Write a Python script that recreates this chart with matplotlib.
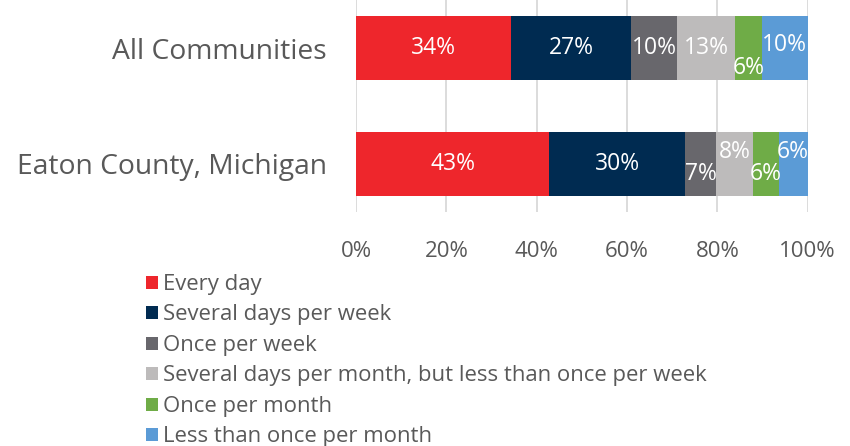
import matplotlib
matplotlib.use("Agg")
import matplotlib.pyplot as plt
from matplotlib.patches import Patch

plt.rcParams['font.family'] = ['Open Sans', 'DejaVu Sans']

categories = ["All Communities", "Eaton County, Michigan"]
series_names = ["Every day", "Several days per week", "Once per week",
                "Several days per month, but less than once per week",
                "Once per month", "Less than once per month"]
all_communities = [34.3, 26.6, 10.2, 12.8, 5.9, 10.2]
eaton_county = [42.8, 30.1, 6.9, 8.0, 5.8, 6.4]
all_labels = ["34%", "27%", "10%", "13%", "6%", "10%"]
eaton_labels = ["43%", "30%", "7%", "8%", "6%", "6%"]
tick_values = [0, 20, 40, 60, 80, 100]
tick_labels = ["0%", "20%", "40%", "60%", "80%", "100%"]

colors = ["#EE262C", "#002B51", "#68676C", "#BDBBBB", "#6FAC47", "#5B9BD6"]
text_gray = "#595959"
# vertical nudges of labels (in data units) to avoid crowding
all_dy = [0, 0, 0, 0, 0.17, -0.03]
eaton_dy = [0, 0, 0.09, -0.1, 0.09, -0.1]

fig = plt.figure(figsize=(8.5, 4.46), dpi=100)
ax = fig.add_axes([356/850, 1 - 212/446, (807.7-356)/850, 212/446])

rows = [all_communities, eaton_county]
labels = [all_labels, eaton_labels]
dys = [all_dy, eaton_dy]
for i, (vals, labs, dy) in enumerate(zip(rows, labels, dys)):
    left = 0
    for j, v in enumerate(vals):
        ax.barh(i, v, left=left, height=0.56, color=colors[j], zorder=3)
        ax.text(left + v/2, i + dy[j], labs[j], ha='center', va='center',
                color='white', fontsize=16.5, zorder=4)
        left += v

ax.set_xlim(0, 100)
ax.set_ylim(1.414, -0.414)
ax.set_xticks(tick_values)
ax.set_xticklabels(tick_labels, color=text_gray, fontsize=16)
ax.set_yticks([0, 1])
ax.set_yticklabels(categories, color=text_gray, fontsize=20.3)
ax.tick_params(axis='both', length=0)
ax.tick_params(axis='x', pad=21)
ax.tick_params(axis='y', pad=21)
ax.grid(axis='x', color='#D9D9D9', linewidth=1.3, zorder=0)
for s in ax.spines.values():
    s.set_visible(False)

handles = [Patch(facecolor=c, edgecolor='none') for c in colors]
leg = fig.legend(handles, series_names, loc='upper left',
                 bbox_to_anchor=(146/850, 1 - 274/446), frameon=False,
                 fontsize=15.9, handlelength=0.55, handleheight=0.55,
                 handletextpad=0.22, labelspacing=0.43, borderpad=0, borderaxespad=0)
for t in leg.get_texts():
    t.set_color(text_gray)

fig.savefig("out.png", dpi=100)
